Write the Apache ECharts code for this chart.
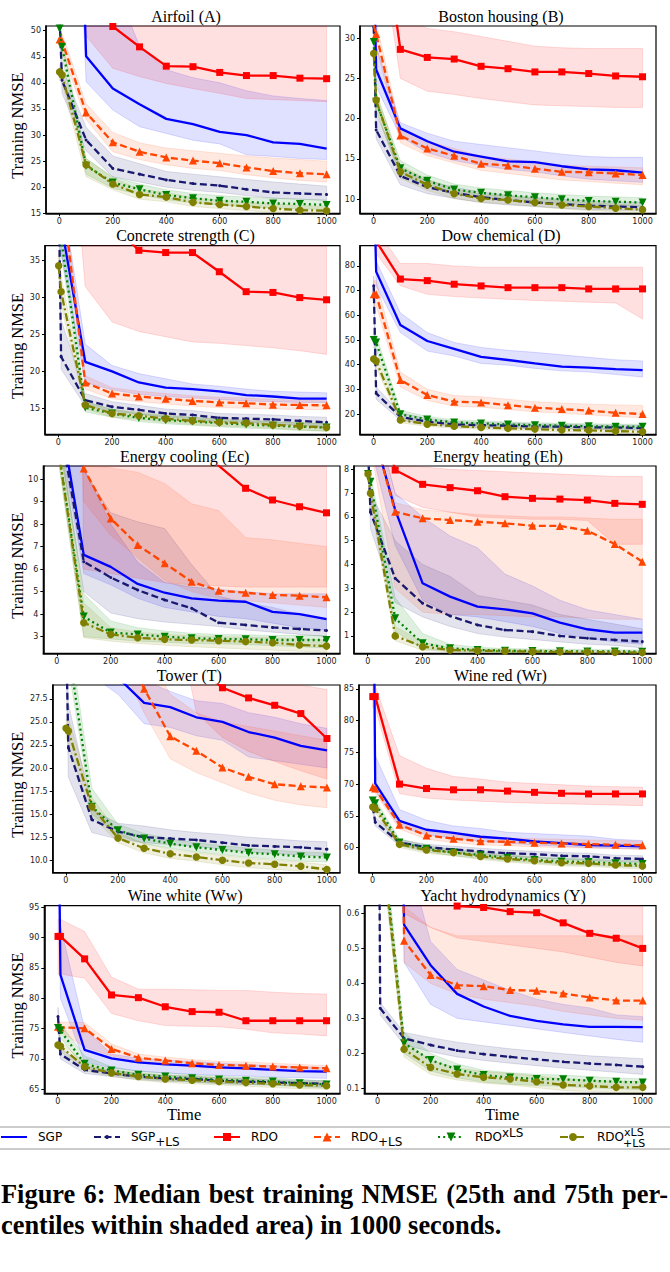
<!DOCTYPE html>
<html><head><meta charset="utf-8">
<script src="https://cdn.jsdelivr.net/npm/echarts@6/dist/echarts.min.js"></script>
<style>html,body{margin:0;padding:0;background:#fff;overflow:hidden}#c{width:670px;height:1272px}</style>
</head><body><div id="c"></div><script>
// ---------------- DATA ----------------
const TIME = [1, 10, 100, 200, 300, 400, 500, 600, 700, 800, 900, 1000];
const X_TICKS = [0, 200, 400, 600, 800, 1000];
const METHODS = ['SGP', 'SGP+LS', 'RDO', 'RDO+LS', 'RDOxLS', 'RDOxLS+LS'];

// Airfoil (A)
const A_YTICKS = [15, 20, 25, 30, 35, 40, 45, 50];
const A_SGP = [300, 200, 45.1, 38.9, 35.9, 33.1, 32.1, 30.6, 30.0, 28.6, 28.3, 27.4];
const A_SGP_LO = [250, 150, 40.2, 34.8, 31.6, 30.3, 29.0, 28.3, 26.2, 25.9, 25.5, 25.3];
const A_SGP_HI = [400, 300, 70, 60, 47, 42.5, 41, 40, 38.5, 37.5, 37, 36.6];
const A_SGPLS = [52, 40.5, 29.05, 23.6, 22.5, 21.4, 20.7, 20.3, 19.6, 19.0, 18.8, 18.6];
const A_SGPLS_LO = [50, 38.0, 27.0, 22.0, 21.0, 20.0, 19.4, 19.0, 18.4, 17.9, 17.7, 17.5];
const A_SGPLS_HI = [54, 43.0, 31.5, 26.0, 24.5, 23.0, 22.5, 22.0, 21.5, 21.0, 20.6, 20.2];
const A_RDO = [300, 200, 60, 50.8, 46.9, 43.2, 43.1, 42.0, 41.4, 41.4, 40.9, 40.8];
const A_RDO_LO = [250, 150, 49, 42.8, 41.2, 39.9, 38.9, 38.0, 37.0, 36.8, 36.6, 36.4];
const A_RDO_HI = [400, 300, 90, 80, 75, 70, 68, 66, 64, 62, 61, 60];
const A_RDOLS = [48.3, 48.0, 34.3, 28.6, 26.8, 25.7, 25.1, 24.6, 23.8, 23.1, 22.7, 22.5];
const A_RDOLS_LO = [47.0, 46.0, 33.0, 26.8, 25.3, 24.3, 23.6, 23.2, 22.4, 21.8, 21.3, 21.0];
const A_RDOLS_HI = [49.5, 49.5, 36.0, 30.5, 28.5, 27.5, 27.0, 26.5, 26.0, 25.6, 25.3, 25.0];
const A_RDOX = [50.4, 46.9, 24.1, 20.9, 19.6, 18.5, 17.9, 17.4, 17.2, 16.9, 16.8, 16.6];
const A_RDOX_LO = [49, 45, 22.5, 19.8, 18.6, 17.6, 17.0, 16.6, 16.3, 16.0, 15.9, 15.7];
const A_RDOX_HI = [51.5, 48.5, 25.5, 22.0, 20.6, 19.5, 18.8, 18.4, 18.1, 17.9, 17.7, 17.5];
const A_RDOXLS = [42.1, 41.5, 24.3, 20.6, 18.6, 18.1, 17.1, 16.7, 16.3, 15.9, 15.6, 15.5];
const A_RDOXLS_LO = [40.5, 40.0, 22.0, 19.5, 17.7, 17.2, 16.3, 15.9, 15.5, 15.2, 15.0, 14.9];
const A_RDOXLS_HI = [43.5, 43.0, 25.5, 21.8, 19.6, 19.0, 18.0, 17.5, 17.1, 16.8, 16.5, 16.3];

// Boston housing (B)
const B_YTICKS = [10, 15, 20, 25, 30];
const B_SGP = [40, 26.1, 18.8, 17.2, 15.9, 15.3, 14.7, 14.6, 14.1, 13.7, 13.6, 13.3];
const B_SGP_LO = [36, 24.0, 17.8, 15.8, 14.8, 14.2, 13.7, 13.4, 12.9, 12.5, 12.3, 12.1];
const B_SGP_HI = [44, 29.0, 19.5, 18.2, 17.2, 16.8, 16.4, 16.0, 15.6, 15.3, 15.2, 15.2];
const B_SGPLS = [31.4, 18.6, 12.9, 11.5, 10.8, 10.25, 9.9, 9.6, 9.4, 9.2, 9.1, 9.0];
const B_SGPLS_LO = [30, 17.5, 11.8, 10.7, 10.1, 9.6, 9.3, 9.1, 8.9, 8.7, 8.65, 8.6];
const B_SGPLS_HI = [33, 20.5, 14.0, 12.3, 11.5, 10.9, 10.5, 10.2, 10.0, 9.8, 9.7, 9.6];
const B_RDO = [60, 50, 28.6, 27.6, 27.4, 26.5, 26.2, 25.8, 25.8, 25.6, 25.3, 25.2];
const B_RDO_LO = [55, 45, 25.0, 23.4, 23.0, 22.5, 22.1, 21.7, 21.6, 21.5, 21.4, 21.4];
const B_RDO_HI = [65, 55, 33, 31.2, 30.8, 30.2, 29.6, 29.0, 28.8, 28.7, 28.7, 28.7];
const B_RDOLS = [31.6, 30.5, 17.9, 16.3, 15.4, 14.4, 14.2, 13.8, 13.4, 13.35, 13.2, 13.0];
const B_RDOLS_LO = [30.0, 29.0, 17.0, 15.4, 14.5, 13.6, 13.2, 12.8, 12.4, 12.2, 12.0, 11.8];
const B_RDOLS_HI = [33, 32, 18.8, 17.2, 16.3, 15.3, 15.0, 14.6, 14.2, 14.1, 14.0, 13.9];
const B_RDOX = [29.5, 22.1, 13.85, 12.3, 11.2, 10.8, 10.5, 10.25, 10.0, 9.8, 9.7, 9.6];
const B_RDOX_LO = [28.5, 21.0, 13.0, 11.6, 10.6, 10.2, 9.9, 9.7, 9.5, 9.3, 9.2, 9.1];
const B_RDOX_HI = [30.5, 23.0, 14.8, 13.0, 11.9, 11.4, 11.1, 10.8, 10.6, 10.4, 10.3, 10.2];
const B_RDOXLS = [28.1, 22.3, 13.4, 11.8, 10.7, 10.1, 9.9, 9.6, 9.3, 9.1, 8.9, 8.7];
const B_RDOXLS_LO = [27, 21.0, 12.6, 11.1, 10.1, 9.6, 9.4, 9.1, 8.8, 8.6, 8.45, 8.3];
const B_RDOXLS_HI = [29, 23.5, 14.2, 12.5, 11.3, 10.6, 10.4, 10.1, 9.8, 9.6, 9.4, 9.2];

// Concrete strength (C)
const C_YTICKS = [15, 20, 25, 30, 35];
const C_SGP = [60, 40, 21.3, 20.0, 18.5, 17.8, 17.6, 17.3, 16.8, 16.6, 16.3, 16.3];
const C_SGP_LO = [55, 36, 18.5, 17.5, 16.9, 16.6, 16.4, 16.2, 16.0, 15.9, 15.8, 15.8];
const C_SGP_HI = [65, 45, 23.7, 20.8, 19.7, 19.0, 18.3, 18.0, 17.6, 17.3, 17.2, 17.1];
const C_SGPLS = [45, 22.0, 16.1, 15.2, 14.8, 14.3, 14.1, 13.7, 13.6, 13.5, 13.3, 13.1];
const C_SGPLS_LO = [42, 20.3, 15.3, 14.6, 14.2, 13.8, 13.6, 13.2, 13.1, 12.9, 12.7, 12.5];
const C_SGPLS_HI = [48, 27.0, 17.0, 15.9, 15.4, 14.9, 14.7, 14.3, 14.2, 14.1, 13.9, 13.8];
const C_RDO = [80, 70, 45, 40, 36.4, 36.1, 36.1, 33.5, 30.8, 30.7, 30.0, 29.7];
const C_RDO_LO = [70, 70, 31.5, 26.7, 25.4, 24.7, 24.0, 23.8, 23.5, 23.2, 22.8, 22.3];
const C_RDO_HI = [90, 90, 60, 55, 50, 48, 46, 44, 42, 40, 40, 40];
const C_RDOLS = [47, 45, 18.5, 17.0, 16.6, 16.3, 16.0, 15.8, 15.7, 15.5, 15.45, 15.4];
const C_RDOLS_LO = [45, 43, 17.6, 16.3, 15.9, 15.6, 15.3, 15.1, 15.0, 14.9, 14.85, 14.8];
const C_RDOLS_HI = [49, 47, 19.4, 17.8, 17.3, 17.0, 16.7, 16.5, 16.4, 16.2, 16.1, 16.0];
const C_RDOX = [40, 38, 15.1, 14.3, 13.7, 13.4, 13.2, 13.0, 12.8, 12.65, 12.5, 12.4];
const C_RDOX_LO = [38, 36, 14.5, 13.8, 13.2, 12.9, 12.7, 12.5, 12.3, 12.2, 12.0, 11.9];
const C_RDOX_HI = [42, 40, 15.8, 14.9, 14.3, 14.0, 13.8, 13.5, 13.3, 13.2, 13.0, 12.9];
const C_RDOXLS = [34.3, 30.8, 15.45, 14.3, 14.0, 13.6, 13.3, 13.1, 13.0, 12.75, 12.6, 12.4];
const C_RDOXLS_LO = [33, 29, 14.9, 13.8, 13.5, 13.1, 12.8, 12.6, 12.5, 12.3, 12.1, 11.9];
const C_RDOXLS_HI = [36, 33, 16.0, 14.8, 14.5, 14.1, 13.8, 13.6, 13.5, 13.2, 13.1, 12.9];

// Dow chemical (D)
const D_YTICKS = [20, 30, 40, 50, 60, 70, 80];
const D_SGP = [120, 77.7, 56.1, 49.6, 46.4, 43.2, 41.9, 40.5, 39.2, 38.8, 38.2, 37.8];
const D_SGP_LO = [110, 72, 53.0, 45.5, 43.5, 40.5, 39.8, 38.5, 37.5, 37.0, 36.0, 35.0];
const D_SGP_HI = [130, 82, 61.0, 53.0, 49.0, 47.0, 45.8, 45.0, 44.0, 43.0, 42.0, 41.5];
const D_SGPLS = [72, 28.4, 18.9, 16.9, 15.8, 15.5, 15.3, 14.9, 14.9, 14.6, 14.6, 14.3];
const D_SGPLS_LO = [68, 26, 17.5, 15.8, 14.8, 14.5, 14.3, 14.0, 14.0, 13.7, 13.7, 13.4];
const D_SGPLS_HI = [76, 31, 20.5, 18.2, 17.0, 16.6, 16.4, 16.0, 15.9, 15.6, 15.6, 15.3];
const D_RDO = [100, 90, 74.7, 74.05, 72.6, 71.9, 71.2, 71.2, 71.2, 70.7, 70.7, 70.7];
const D_RDO_LO = [95, 85, 72.0, 68.5, 67.6, 67.0, 66.5, 66.0, 65.7, 65.3, 65.0, 58.5];
const D_RDO_HI = [110, 95, 81.0, 81.0, 80.0, 79.5, 79.5, 79.5, 79.5, 79.5, 79.5, 79.5];
const D_RDOLS = [68.5, 68.5, 33.8, 27.7, 25.0, 24.7, 23.6, 22.6, 22.0, 21.4, 20.5, 20.0];
const D_RDOLS_LO = [64, 64, 31, 25.5, 23.2, 22.8, 21.8, 20.9, 20.3, 19.7, 19.0, 18.5];
const D_RDOLS_HI = [74, 74, 37, 30.0, 27.5, 27.0, 26.0, 25.0, 24.5, 24.0, 23.7, 23.5];
const D_RDOX = [50.0, 49.0, 19.9, 17.8, 16.6, 16.2, 15.8, 15.5, 15.3, 15.1, 14.9, 14.9];
const D_RDOX_LO = [47, 46, 18.5, 16.7, 15.6, 15.2, 14.9, 14.6, 14.4, 14.2, 14.0, 14.0];
const D_RDOX_HI = [53, 52, 21.5, 19.0, 17.7, 17.3, 16.8, 16.5, 16.3, 16.1, 15.9, 15.9];
const D_RDOXLS = [42.3, 41.5, 17.6, 15.9, 15.1, 14.6, 14.2, 13.9, 13.5, 13.4, 13.1, 12.8];
const D_RDOXLS_LO = [40, 39, 16.5, 15.0, 14.3, 13.8, 13.4, 13.1, 12.8, 12.6, 12.4, 12.1];
const D_RDOXLS_HI = [45, 44, 18.8, 16.9, 16.0, 15.5, 15.1, 14.8, 14.4, 14.2, 14.0, 13.7];

// Energy cooling (Ec)
const EC_YTICKS = [3, 4, 5, 6, 7, 8, 9, 10];
const EC_SGP = [15, 13, 6.63, 6.1, 5.34, 4.95, 4.7, 4.6, 4.55, 4.1, 4.0, 3.78];
const EC_SGP_LO = [14, 12, 5.8, 5.3, 4.7, 4.3, 4.1, 3.9, 3.8, 3.6, 3.4, 3.3];
const EC_SGP_HI = [16, 14, 10.5, 8.0, 6.3, 5.4, 5.2, 5.1, 5.0, 4.9, 4.9, 4.9];
const EC_SGPLS = [15, 12.5, 6.33, 5.63, 5.07, 4.63, 4.26, 3.62, 3.52, 3.41, 3.34, 3.27];
const EC_SGPLS_LO = [14, 11.5, 5.0, 4.05, 3.8, 3.65, 3.55, 3.45, 3.3, 3.2, 3.1, 3.0];
const EC_SGPLS_HI = [16, 13.5, 10.4, 8.5, 8.1, 7.8, 6.2, 4.8, 4.5, 4.3, 4.0, 3.8];
const EC_RDO = [20, 20, 15, 15, 15, 13, 12, 10.6, 9.59, 9.07, 8.77, 8.5];
const EC_RDO_LO = [100, 100, 6.0, 5.8, 5.6, 5.4, 5.3, 5.25, 5.2, 5.2, 5.2, 5.2];
const EC_RDO_HI = [120, 120, 20, 20, 20, 18, 16, 15, 14, 13, 12.5, 12];
const EC_RDOLS = [15, 13, 10.47, 8.25, 7.07, 6.26, 5.44, 5.04, 4.95, 4.85, 4.82, 4.75];
const EC_RDOLS_LO = [40, 40, 9.0, 7.5, 6.5, 5.5, 5.0, 4.7, 4.6, 4.5, 4.4, 4.3];
const EC_RDOLS_HI = [50, 50, 10.6, 10.5, 10.3, 9.8, 8.9, 8.6, 7.4, 7.3, 7.15, 7.0];
const EC_RDOX = [20, 11, 3.89, 3.18, 3.1, 3.0, 2.93, 2.9, 2.88, 2.85, 2.85, 2.85];
const EC_RDOX_LO = [18, 10.5, 3.0, 2.9, 2.8, 2.75, 2.7, 2.68, 2.65, 2.6, 2.55, 2.5];
const EC_RDOX_HI = [22, 12, 4.9, 3.7, 3.4, 3.25, 3.15, 3.1, 3.08, 3.05, 3.05, 3.05];
const EC_RDOXLS = [20, 11, 3.62, 3.1, 2.95, 2.88, 2.85, 2.82, 2.78, 2.73, 2.63, 2.58];
const EC_RDOXLS_LO = [18, 10.5, 2.95, 2.8, 2.7, 2.62, 2.55, 2.5, 2.45, 2.4, 2.35, 2.3];
const EC_RDOXLS_HI = [22, 12, 4.5, 3.4, 3.2, 3.1, 3.05, 3.0, 2.98, 2.95, 2.9, 2.85];

// Energy heating (Eh)
const EH_YTICKS = [1, 2, 3, 4, 5, 6, 7, 8];
const EH_SGP = [15, 10, 6.3, 3.21, 2.65, 2.23, 2.12, 1.95, 1.56, 1.28, 1.14, 1.14];
const EH_SGP_LO = [14, 9, 4.8, 2.5, 1.9, 1.8, 1.6, 1.4, 1.1, 0.9, 0.75, 0.65];
const EH_SGP_HI = [16, 11, 7.0, 6.0, 5.2, 4.7, 3.6, 3.1, 2.5, 2.1, 1.9, 1.7];
const EH_SGPLS = [9, 6.2, 3.42, 2.37, 1.84, 1.46, 1.25, 1.18, 1.0, 0.9, 0.83, 0.76];
const EH_SGPLS_LO = [8.5, 5.5, 2.4, 1.8, 1.4, 1.1, 0.95, 0.85, 0.75, 0.65, 0.6, 0.5];
const EH_SGPLS_HI = [9.5, 7.0, 5.0, 4.0, 3.5, 2.7, 2.5, 2.3, 1.9, 1.7, 1.5, 1.3];
const EH_RDO = [15, 12, 7.97, 7.37, 7.23, 7.1, 6.85, 6.78, 6.75, 6.71, 6.57, 6.53];
const EH_RDO_LO = [14, 11, 6.9, 6.4, 6.2, 6.0, 5.95, 5.9, 5.9, 5.85, 4.85, 4.85];
const EH_RDO_HI = [16, 13, 8.2, 8.1, 8.0, 7.95, 7.9, 7.85, 7.8, 7.75, 7.7, 7.7];
const EH_RDOLS = [15, 10, 6.22, 5.94, 5.87, 5.8, 5.73, 5.63, 5.62, 5.42, 4.86, 4.12];
const EH_RDOLS_LO = [14, 9, 3.0, 2.0, 1.9, 1.9, 1.85, 1.8, 1.8, 1.75, 1.7, 1.7];
const EH_RDOLS_HI = [16, 11, 6.6, 6.3, 6.2, 6.1, 6.05, 6.0, 6.0, 5.95, 5.9, 5.9];
const EH_RDOX = [7.8, 7.48, 1.74, 0.69, 0.48, 0.41, 0.38, 0.37, 0.36, 0.35, 0.35, 0.34];
const EH_RDOX_LO = [7.5, 7.1, 1.2, 0.45, 0.36, 0.33, 0.31, 0.3, 0.3, 0.29, 0.29, 0.28];
const EH_RDOX_HI = [8.1, 7.8, 2.6, 1.1, 0.65, 0.52, 0.47, 0.45, 0.44, 0.43, 0.42, 0.41];
const EH_RDOXLS = [7.8, 7.0, 1.0, 0.55, 0.41, 0.38, 0.36, 0.34, 0.33, 0.32, 0.31, 0.30];
const EH_RDOXLS_LO = [7.5, 6.6, 0.8, 0.4, 0.33, 0.3, 0.29, 0.28, 0.27, 0.27, 0.26, 0.26];
const EH_RDOXLS_HI = [8.1, 7.4, 1.4, 0.75, 0.5, 0.46, 0.43, 0.41, 0.4, 0.39, 0.38, 0.37];

// Tower (T)
const TW_YTICKS = [10, 12.5, 15, 17.5, 20, 22.5, 25, 27.5];
const TW_SGP = [40, 38, 33, 29.8, 27.07, 26.6, 25.5, 25.0, 23.9, 23.3, 22.4, 21.9];
const TW_SGP_LO = [36, 34, 30, 28.0, 24.8, 24.4, 23.5, 23.0, 21.2, 20.8, 20.4, 20.0];
const TW_SGP_HI = [44, 42, 36, 33, 29.5, 28.3, 27.3, 27.0, 26.0, 25.5, 24.8, 24.3];
const TW_SGPLS = [35, 22.2, 14.4, 13.1, 12.5, 12.35, 12.2, 11.9, 11.6, 11.5, 11.4, 11.2];
const TW_SGPLS_LO = [32, 19, 13.0, 12.3, 11.9, 11.7, 11.5, 11.2, 10.9, 10.7, 10.6, 10.4];
const TW_SGPLS_HI = [38, 27, 15.5, 14.0, 13.7, 13.3, 13.0, 12.8, 12.5, 12.3, 12.1, 12.0];
const TW_RDO = [50, 50, 40, 38, 36, 33, 31, 28.7, 27.6, 26.8, 25.9, 23.2];
const TW_RDO_LO = [45, 45, 40, 40, 40, 40, 26, 23.3, 21.8, 20.7, 19.7, 18.8];
const TW_RDO_HI = [55, 55, 45, 45, 45, 40, 35, 33, 31, 30, 29, 28.5];
const TW_RDOLS = [50, 50, 40, 35, 28.6, 23.45, 21.86, 20.05, 19.04, 18.24, 18.03, 17.88];
const TW_RDOLS_LO = [45, 45, 38, 32, 26, 21.0, 19.5, 18.4, 17.3, 16.5, 16.0, 15.7];
const TW_RDOLS_HI = [55, 55, 45, 40, 33, 28, 26, 25, 24.5, 24, 23.5, 23.0];
const TW_RDOX = [36, 33, 15.8, 13.25, 12.35, 11.8, 11.4, 11.1, 10.8, 10.65, 10.4, 10.3];
const TW_RDOX_LO = [34, 31, 15.0, 12.7, 11.8, 11.3, 10.9, 10.6, 10.3, 10.1, 9.9, 9.8];
const TW_RDOX_HI = [38, 35, 17.8, 13.9, 12.9, 12.3, 11.9, 11.6, 11.3, 11.1, 10.9, 10.8];
const TW_RDOXLS = [24.3, 24.0, 15.8, 12.4, 11.3, 10.7, 10.35, 10.0, 9.7, 9.57, 9.35, 9.0];
const TW_RDOXLS_LO = [23.3, 22.5, 14.8, 11.9, 10.8, 10.2, 9.9, 9.5, 9.2, 9.0, 8.8, 8.5];
const TW_RDOXLS_HI = [25.3, 25.5, 16.8, 13.0, 11.8, 11.2, 10.8, 10.5, 10.2, 10.0, 9.8, 9.5];

// Wine red (Wr)
const WR_YTICKS = [60, 65, 70, 75, 80, 85];
const WR_SGP = [120, 70.1, 64.2, 62.8, 62.3, 61.7, 61.4, 60.95, 60.7, 60.4, 60.3, 60.2];
const WR_SGP_LO = [110, 69.0, 63.3, 62.0, 61.5, 61.0, 60.7, 60.4, 60.2, 60.0, 59.9, 59.8];
const WR_SGP_HI = [130, 74.5, 66.0, 64.3, 63.4, 63.0, 62.4, 62.2, 62.0, 61.8, 61.3, 61.1];
const WR_SGPLS = [66.5, 64.0, 60.8, 60.05, 59.7, 59.4, 59.1, 58.95, 58.7, 58.6, 58.3, 58.2];
const WR_SGPLS_LO = [65.8, 63.4, 60.3, 59.6, 59.2, 58.9, 58.6, 58.4, 58.2, 58.0, 57.8, 57.7];
const WR_SGPLS_HI = [67.3, 64.8, 61.3, 60.5, 60.2, 59.9, 59.6, 59.4, 59.2, 59.1, 58.8, 58.7];
const WR_RDO = [83.8, 83.8, 70.0, 69.3, 69.1, 69.1, 68.9, 68.7, 68.55, 68.45, 68.45, 68.45];
const WR_RDO_LO = [82, 82, 68.5, 67.8, 67.5, 67.3, 67.1, 67.0, 66.9, 66.8, 66.7, 66.6];
const WR_RDO_HI = [85.5, 85.5, 74.5, 72.5, 71.2, 70.8, 70.3, 70.1, 69.9, 69.7, 69.6, 69.5];
const WR_RDOLS = [69.5, 69.3, 63.6, 61.9, 61.4, 61.0, 60.9, 60.75, 60.65, 60.55, 60.45, 60.35];
const WR_RDOLS_LO = [68.8, 68.6, 62.9, 61.3, 60.8, 60.4, 60.3, 60.1, 60.0, 59.9, 59.8, 59.7];
const WR_RDOLS_HI = [70.2, 70.0, 64.3, 62.5, 62.0, 61.6, 61.5, 61.4, 61.3, 61.2, 61.1, 61.0];
const WR_RDOX = [67.4, 67.0, 60.8, 59.8, 59.2, 58.8, 58.4, 58.05, 57.8, 57.7, 57.5, 57.4];
const WR_RDOX_LO = [66.8, 66.4, 60.3, 59.3, 58.7, 58.3, 57.9, 57.6, 57.3, 57.2, 57.0, 56.9];
const WR_RDOX_HI = [68.0, 67.6, 61.3, 60.3, 59.7, 59.3, 58.9, 58.5, 58.3, 58.2, 58.0, 57.9];
const WR_RDOXLS = [66.4, 66.1, 60.5, 59.6, 59.2, 58.6, 58.2, 57.9, 57.6, 57.5, 57.25, 57.1];
const WR_RDOXLS_LO = [65.8, 65.5, 60.0, 59.1, 58.7, 58.1, 57.7, 57.4, 57.1, 57.0, 56.8, 56.6];
const WR_RDOXLS_HI = [67.0, 66.7, 61.0, 60.1, 59.7, 59.1, 58.7, 58.4, 58.1, 58.0, 57.7, 57.6];

// Wine white (Ww)
const WW_YTICKS = [65, 70, 75, 80, 85, 90, 95];
const WW_SGP = [120, 83.85, 71.5, 70.1, 69.45, 69.1, 68.9, 68.6, 68.45, 68.2, 68.0, 67.9];
const WW_SGP_LO = [110, 80.0, 69.5, 68.5, 68.0, 67.7, 67.5, 67.3, 67.2, 67.0, 66.9, 66.8];
const WW_SGP_HI = [130, 92.0, 75.0, 70.8, 70.1, 69.8, 69.6, 69.3, 69.1, 68.9, 68.7, 68.6];
const WW_SGPLS = [77.0, 70.8, 68.2, 67.6, 67.1, 66.8, 66.7, 66.4, 66.25, 66.15, 66.0, 65.9];
const WW_SGPLS_LO = [75.5, 70.0, 67.6, 67.1, 66.6, 66.3, 66.2, 65.9, 65.8, 65.7, 65.5, 65.4];
const WW_SGPLS_HI = [78.5, 71.8, 68.8, 68.1, 67.6, 67.3, 67.2, 66.9, 66.8, 66.6, 66.5, 66.4];
const WW_RDO = [90.2, 90.2, 86.5, 80.55, 80.1, 78.6, 77.8, 77.7, 76.3, 76.3, 76.3, 76.3];
const WW_RDO_LO = [84, 84, 83.3, 77.5, 76.3, 75.5, 75.4, 75.3, 74.9, 74.3, 74.1, 73.8];
const WW_RDO_HI = [93, 93, 91, 83.5, 81.5, 81.5, 81.4, 81.3, 81.3, 81.0, 80.8, 80.7];
const WW_RDOLS = [75.3, 75.2, 75.05, 71.65, 70.2, 69.75, 69.3, 69.0, 68.9, 68.75, 68.6, 68.45];
const WW_RDOLS_LO = [74.5, 74.4, 72.0, 70.5, 69.5, 69.1, 68.7, 68.4, 68.3, 68.1, 67.9, 67.8];
const WW_RDOLS_HI = [76.2, 76.1, 76.0, 72.5, 70.8, 70.3, 69.9, 69.6, 69.5, 69.3, 69.1, 68.9];
const WW_RDOX = [75.1, 74.7, 69.2, 68.1, 67.4, 67.1, 66.8, 66.6, 66.4, 66.3, 66.0, 65.8];
const WW_RDOX_LO = [74.3, 73.5, 68.5, 67.5, 66.8, 66.5, 66.2, 66.0, 65.8, 65.7, 65.4, 65.2];
const WW_RDOX_HI = [75.9, 75.8, 70.5, 68.7, 68.0, 67.7, 67.4, 67.2, 67.0, 66.9, 66.6, 66.4];
const WW_RDOXLS = [72.3, 72.1, 68.7, 67.7, 67.1, 66.7, 66.5, 66.3, 66.1, 65.9, 65.7, 65.6];
const WW_RDOXLS_LO = [71.5, 71.3, 68.1, 67.1, 66.5, 66.1, 65.9, 65.7, 65.5, 65.3, 65.1, 65.0];
const WW_RDOXLS_HI = [73.1, 72.9, 69.3, 68.3, 67.7, 67.3, 67.1, 66.9, 66.7, 66.5, 66.3, 66.2];

// Yacht hydrodynamics (Y)
const Y_YTICKS = [0.1, 0.2, 0.3, 0.4, 0.5, 0.6];
const Y_SGP = [null, 5.0, 0.567, 0.452, 0.37, 0.334, 0.307, 0.293, 0.283, 0.276, 0.276, 0.275];
const Y_SGP_LO = [null, 5.0, 0.46, 0.34, 0.30, 0.29, 0.28, 0.27, 0.26, 0.25, 0.24, 0.232];
const Y_SGP_HI = [null, 5.0, 0.8, 0.52, 0.44, 0.41, 0.38, 0.355, 0.34, 0.33, 0.31, 0.305];
const Y_SGPLS = [1.5, 0.329, 0.243, 0.224, 0.208, 0.198, 0.19, 0.183, 0.176, 0.171, 0.167, 0.162];
const Y_SGPLS_LO = [1.4, 0.31, 0.225, 0.205, 0.19, 0.18, 0.172, 0.165, 0.158, 0.152, 0.146, 0.14];
const Y_SGPLS_HI = [1.6, 0.345, 0.26, 0.245, 0.232, 0.222, 0.213, 0.206, 0.199, 0.193, 0.189, 0.185];
const Y_RDO = [null, 5.0, 0.8, 0.7, 0.621, 0.617, 0.605, 0.602, 0.573, 0.543, 0.529, 0.5];
const Y_RDO_LO = [null, 5.0, 0.6, 0.56, 0.53, 0.52, 0.51, 0.5, 0.49, 0.475, 0.46, 0.45];
const Y_RDO_HI = [null, 5.0, 1.0, 0.9, 0.8, 0.75, 0.72, 0.7, 0.68, 0.66, 0.64, 0.62];
const Y_RDOLS = [null, 5.0, 0.522, 0.424, 0.395, 0.392, 0.381, 0.379, 0.371, 0.36, 0.351, 0.351];
const Y_RDOLS_LO = [null, 5.0, 0.46, 0.40, 0.37, 0.355, 0.345, 0.335, 0.32, 0.31, 0.30, 0.295];
const Y_RDOLS_HI = [null, 5.0, 0.62, 0.56, 0.536, 0.536, 0.536, 0.536, 0.536, 0.536, 0.536, 0.536];
const Y_RDOX = [1.0, 0.87, 0.229, 0.181, 0.154, 0.138, 0.131, 0.127, 0.126, 0.122, 0.119, 0.117];
const Y_RDOX_LO = [0.95, 0.82, 0.2, 0.15, 0.13, 0.118, 0.112, 0.108, 0.106, 0.102, 0.099, 0.096];
const Y_RDOX_HI = [1.05, 0.92, 0.26, 0.2, 0.17, 0.152, 0.145, 0.14, 0.138, 0.134, 0.13, 0.127];
const Y_RDOXLS = [1.0, 0.85, 0.212, 0.16, 0.141, 0.132, 0.127, 0.119, 0.11, 0.107, 0.103, 0.103];
const Y_RDOXLS_LO = [0.95, 0.8, 0.19, 0.14, 0.124, 0.115, 0.11, 0.102, 0.094, 0.091, 0.088, 0.087];
const Y_RDOXLS_HI = [1.05, 0.9, 0.235, 0.18, 0.158, 0.148, 0.143, 0.136, 0.127, 0.124, 0.12, 0.12];

const CAPTION_1 = ['Figure', '6:', 'Median', 'best', 'training', 'NMSE', '(25th', 'and', '75th', 'per-'];
const CAPTION_2 = 'centiles within shaded area) in 1000 seconds.';

// ---------------- PANEL SETUP ----------------
const PANELS = [
  {title: 'Airfoil (A)', ymin: 15, ymax: 50.9, yticks: A_YTICKS, dec: 0,
   s: [[A_SGP, A_SGP_LO, A_SGP_HI], [A_SGPLS, A_SGPLS_LO, A_SGPLS_HI], [A_RDO, A_RDO_LO, A_RDO_HI], [A_RDOLS, A_RDOLS_LO, A_RDOLS_HI], [A_RDOX, A_RDOX_LO, A_RDOX_HI], [A_RDOXLS, A_RDOXLS_LO, A_RDOXLS_HI]]},
  {title: 'Boston housing (B)', ymin: 8.26, ymax: 31.5, yticks: B_YTICKS, dec: 0,
   s: [[B_SGP, B_SGP_LO, B_SGP_HI], [B_SGPLS, B_SGPLS_LO, B_SGPLS_HI], [B_RDO, B_RDO_LO, B_RDO_HI], [B_RDOLS, B_RDOLS_LO, B_RDOLS_HI], [B_RDOX, B_RDOX_LO, B_RDOX_HI], [B_RDOXLS, B_RDOXLS_LO, B_RDOXLS_HI]]},
  {title: 'Concrete strength (C)', ymin: 11.48, ymax: 37.03, yticks: C_YTICKS, dec: 0,
   s: [[C_SGP, C_SGP_LO, C_SGP_HI], [C_SGPLS, C_SGPLS_LO, C_SGPLS_HI], [C_RDO, C_RDO_LO, C_RDO_HI], [C_RDOLS, C_RDOLS_LO, C_RDOLS_HI], [C_RDOX, C_RDOX_LO, C_RDOX_HI], [C_RDOXLS, C_RDOXLS_LO, C_RDOXLS_HI]]},
  {title: 'Dow chemical (D)', ymin: 11.8, ymax: 88.2, yticks: D_YTICKS, dec: 0,
   s: [[D_SGP, D_SGP_LO, D_SGP_HI], [D_SGPLS, D_SGPLS_LO, D_SGPLS_HI], [D_RDO, D_RDO_LO, D_RDO_HI], [D_RDOLS, D_RDOLS_LO, D_RDOLS_HI], [D_RDOX, D_RDOX_LO, D_RDOX_HI], [D_RDOXLS, D_RDOXLS_LO, D_RDOXLS_HI]]},
  {title: 'Energy cooling (Ec)', ymin: 2.26, ymax: 10.58, yticks: EC_YTICKS, dec: 0,
   s: [[EC_SGP, EC_SGP_LO, EC_SGP_HI], [EC_SGPLS, EC_SGPLS_LO, EC_SGPLS_HI], [EC_RDO, EC_RDO_LO, EC_RDO_HI], [EC_RDOLS, EC_RDOLS_LO, EC_RDOLS_HI], [EC_RDOX, EC_RDOX_LO, EC_RDOX_HI], [EC_RDOXLS, EC_RDOXLS_LO, EC_RDOXLS_HI]]},
  {title: 'Energy heating (Eh)', ymin: 0.27, ymax: 8.14, yticks: EH_YTICKS, dec: 0,
   s: [[EH_SGP, EH_SGP_LO, EH_SGP_HI], [EH_SGPLS, EH_SGPLS_LO, EH_SGPLS_HI], [EH_RDO, EH_RDO_LO, EH_RDO_HI], [EH_RDOLS, EH_RDOLS_LO, EH_RDOLS_HI], [EH_RDOX, EH_RDOX_LO, EH_RDOX_HI], [EH_RDOXLS, EH_RDOXLS_LO, EH_RDOXLS_HI]]},
  {title: 'Tower (T)', ymin: 8.67, ymax: 29.0, yticks: TW_YTICKS, dec: 1,
   s: [[TW_SGP, TW_SGP_LO, TW_SGP_HI], [TW_SGPLS, TW_SGPLS_LO, TW_SGPLS_HI], [TW_RDO, TW_RDO_LO, TW_RDO_HI], [TW_RDOLS, TW_RDOLS_LO, TW_RDOLS_HI], [TW_RDOX, TW_RDOX_LO, TW_RDOX_HI], [TW_RDOXLS, TW_RDOXLS_LO, TW_RDOXLS_HI]]},
  {title: 'Wine red (Wr)', ymin: 56.06, ymax: 85.63, yticks: WR_YTICKS, dec: 0,
   s: [[WR_SGP, WR_SGP_LO, WR_SGP_HI], [WR_SGPLS, WR_SGPLS_LO, WR_SGPLS_HI], [WR_RDO, WR_RDO_LO, WR_RDO_HI], [WR_RDOLS, WR_RDOLS_LO, WR_RDOLS_HI], [WR_RDOX, WR_RDOX_LO, WR_RDOX_HI], [WR_RDOXLS, WR_RDOXLS_LO, WR_RDOXLS_HI]]},
  {title: 'Wine white (Ww)', ymin: 64.34, ymax: 95.26, yticks: WW_YTICKS, dec: 0,
   s: [[WW_SGP, WW_SGP_LO, WW_SGP_HI], [WW_SGPLS, WW_SGPLS_LO, WW_SGPLS_HI], [WW_RDO, WW_RDO_LO, WW_RDO_HI], [WW_RDOLS, WW_RDOLS_LO, WW_RDOLS_HI], [WW_RDOX, WW_RDOX_LO, WW_RDOX_HI], [WW_RDOXLS, WW_RDOXLS_LO, WW_RDOXLS_HI]]},
  {title: 'Yacht hydrodynamics (Y)', ymin: 0.086, ymax: 0.622, yticks: Y_YTICKS, dec: 1,
   s: [[Y_SGP, Y_SGP_LO, Y_SGP_HI], [Y_SGPLS, Y_SGPLS_LO, Y_SGPLS_HI], [Y_RDO, Y_RDO_LO, Y_RDO_HI], [Y_RDOLS, Y_RDOLS_LO, Y_RDOLS_HI], [Y_RDOX, Y_RDOX_LO, Y_RDOX_HI], [Y_RDOXLS, Y_RDOXLS_LO, Y_RDOXLS_HI]]}
];

// layout: [left, top, right, bottom] in px
const LAYOUT = [
  [46, 26, 340, 213.3], [360, 26, 656, 213.3],
  [45, 245.7, 340, 434.3], [360, 245.7, 656, 434.3],
  [43.3, 466, 340, 653.3], [354, 466, 656, 653.3],
  [52.7, 685, 340, 872.5], [359, 685, 656, 872.5],
  [44.3, 905.7, 340, 1093.3], [364.3, 905.7, 656, 1093.3]
];

const STYLE = [
  {color: '#0000ff', type: 'solid', symbol: 'none', size: 0, rotate: 0, legendH: 10},
  {color: '#191970', type: [7, 3.5], symbol: 'circle', size: 3, rotate: 0, legendH: 5},
  {color: '#ff0000', type: 'solid', symbol: 'rect', size: 7, rotate: 0, legendH: 10},
  {color: '#ff4500', type: [7, 3.5], symbol: 'triangle', size: 8, rotate: 0, legendH: 11},
  {color: '#008000', type: [2, 3.2], symbol: 'triangle', size: 8, rotate: 180, legendH: 11},
  {color: '#808000', type: [8, 3, 2, 3], symbol: 'circle', size: 7.5, rotate: 0, legendH: 10}
];

function rgba(hex, a) {
  const n = parseInt(hex.slice(1), 16);
  return 'rgba(' + ((n >> 16) & 255) + ',' + ((n >> 8) & 255) + ',' + (n & 255) + ',' + a + ')';
}

function clipPoly(pts, x0, y0, x1, y1) {
  const edges = [
    [p => p[0] >= x0, (a, b) => { const t = (x0 - a[0]) / (b[0] - a[0]); return [x0, a[1] + t * (b[1] - a[1])]; }],
    [p => p[0] <= x1, (a, b) => { const t = (x1 - a[0]) / (b[0] - a[0]); return [x1, a[1] + t * (b[1] - a[1])]; }],
    [p => p[1] >= y0, (a, b) => { const t = (y0 - a[1]) / (b[1] - a[1]); return [a[0] + t * (b[0] - a[0]), y0]; }],
    [p => p[1] <= y1, (a, b) => { const t = (y1 - a[1]) / (b[1] - a[1]); return [a[0] + t * (b[0] - a[0]), y1]; }]
  ];
  let out = pts;
  for (const [inside, inter] of edges) {
    const inp = out; out = [];
    if (!inp.length) break;
    let prev = inp[inp.length - 1];
    for (const cur of inp) {
      if (inside(cur)) { if (!inside(prev)) out.push(inter(prev, cur)); out.push(cur); }
      else if (inside(prev)) out.push(inter(prev, cur));
      prev = cur;
    }
  }
  return out;
}

const grids = [], xAxes = [], yAxes = [], series = [], graphics = [];
const FONT_TICK = 'DejaVu Sans';
const SERIF = 'Liberation Serif';

PANELS.forEach((p, i) => {
  const [l, t, r, b] = LAYOUT[i];
  grids.push({left: l, top: t, width: r - l, height: b - t, show: true, borderColor: '#000', borderWidth: 1.2, backgroundColor: 'transparent'});
  xAxes.push({
    type: 'value', gridIndex: i, min: -50, max: 1050,
    axisLine: {show: true, onZero: false, lineStyle: {color: '#000', width: 1.6}},
    axisTick: {show: true, customValues: X_TICKS, length: 3, lineStyle: {color: '#000', width: 1}},
    axisLabel: {customValues: X_TICKS, fontFamily: FONT_TICK, fontSize: 8, color: '#222', margin: 4,
      formatter: (v) => String(Math.round(v))},
    splitLine: {show: false}
  });
  yAxes.push({
    type: 'value', gridIndex: i, min: p.ymin, max: p.ymax,
    axisLine: {show: true, onZero: false, lineStyle: {color: '#000', width: 1.6}},
    axisTick: {show: true, customValues: p.yticks, length: 3, lineStyle: {color: '#000', width: 1}},
    axisLabel: {customValues: p.yticks, fontFamily: FONT_TICK, fontSize: 8, color: '#222', margin: 5,
      formatter: (v) => Number(v).toFixed(p.dec)},
    splitLine: {show: false}
  });
  // bands (25th-75th percentile)
  p.s.forEach((trip, m) => {
    const lo = trip[1], hi = trip[2];
    const st = STYLE[m];
    series.push({
      type: 'custom', xAxisIndex: i, yAxisIndex: i, silent: true, z: 1,
      data: TIME.map((x) => [x]),
      encode: {x: 0},
      renderItem: (params, api) => {
        if (params.dataIndex !== 0) return null;
        const cs = params.coordSys;
        const up = [], dn = [];
        TIME.forEach((x, k) => {
          if (lo[k] == null || hi[k] == null) return;
          up.push(api.coord([x, hi[k]]));
          dn.push(api.coord([x, lo[k]]));
        });
        const poly = clipPoly(up.concat(dn.reverse()), cs.x, cs.y, cs.x + cs.width, cs.y + cs.height);
        if (poly.length < 3) return null;
        return {type: 'polygon', shape: {points: poly},
          style: {fill: rgba(st.color, 0.12), stroke: rgba(st.color, 0.13), lineWidth: 1}};
      }
    });
  });
  // median lines
  p.s.forEach((trip, m) => {
    const st = STYLE[m];
    series.push({
      type: 'line', name: METHODS[m], xAxisIndex: i, yAxisIndex: i, z: 3 + m,
      data: TIME.map((x, k) => [x, trip[0][k] == null ? '-' : trip[0][k]]),
      symbol: st.symbol, symbolSize: st.size, symbolRotate: st.rotate, showSymbol: st.symbol !== 'none',
      lineStyle: {color: st.color, width: 2.3, type: st.type},
      itemStyle: {color: st.color, borderWidth: 0},
      clip: true, silent: true, connectNulls: false
    });
  });
  // title
  const cx = (l + r) / 2 - 7;
  graphics.push({type: 'text', x: cx, y: t - 10, silent: true,
    style: {text: p.title, fill: '#000', font: '16px "' + SERIF + '"', align: 'center', verticalAlign: 'middle'}});
  if (i % 2 === 0) {
    graphics.push({type: 'text', x: 17.3, y: (t + b) / 2 + 6, rotation: Math.PI / 2, silent: true,
      style: {text: 'Training NMSE', fill: '#000', font: '16.5px "' + SERIF + '"', align: 'center', verticalAlign: 'middle'}});
  }
  if (i >= 8) {
    graphics.push({type: 'text', x: cx - 1, y: 1114, silent: true,
      style: {text: 'Time', fill: '#000', font: '16.5px "' + SERIF + '"', align: 'center', verticalAlign: 'middle'}});
  }
});

// legend
const LEGEND_LEFT = [0, 93, 213, 313, 437, 559];
const LEGEND_FMT = ['{b|SGP}', '{b|SGP}{sub|+LS}', '{b|RDO}', '{b|RDO}{sub|+LS}', '{b|RDO}{sup|xLS}', '{b|RDO}{sup2|xLS}'];
const LEGEND_H = [14, 23, 14, 23, 23, 22];
const RICH = {
  b: {fontFamily: FONT_TICK, fontSize: 12, color: '#000', lineHeight: 14},
  sub: {fontFamily: FONT_TICK, fontSize: 12, color: '#000', lineHeight: 14, padding: [9, 0, 0, 0]},
  sup: {fontFamily: FONT_TICK, fontSize: 12, color: '#000', lineHeight: 14, padding: [0, 0, 9, 0]},
  sup2: {fontFamily: FONT_TICK, fontSize: 11, color: '#000', lineHeight: 13, padding: [0, 0, 9, 0]}
};
const legends = METHODS.map((name, k) => ({
  data: [k === 0 ? {name: name, itemStyle: {opacity: 0}} : {name: name}],
  left: LEGEND_LEFT[k], top: 1138 - LEGEND_H[k] / 2, padding: 0, z: 10,
  itemWidth: 26, itemHeight: STYLE[k].legendH, selectedMode: false, orient: 'horizontal',
  formatter: () => LEGEND_FMT[k],
  textStyle: {fontFamily: FONT_TICK, fontSize: 12, color: '#000', padding: [0, 0, 0, 6], rich: RICH}
}));

const mctx = document.createElement('canvas').getContext('2d');
mctx.font = '12px "DejaVu Sans"';
const rdoW = mctx.measureText('RDO').width;
graphics.push({type: 'text', x: LEGEND_LEFT[5] + 26 + 5 + 6 + rdoW, y: 1143.5, z: 11, silent: true,
  style: {text: '+LS', fill: '#000', font: '11px "DejaVu Sans"', align: 'left', verticalAlign: 'middle'}});
graphics.push({type: 'rect', shape: {x: -3, y: 1127, width: 676, height: 22}, z: -1, silent: true,
  style: {fill: '#fff', stroke: '#cccccc', lineWidth: 2}});

// caption (justified first line)
const CAP_FONT = 'bold 26.4px "Liberation Serif"';
mctx.font = CAP_FONT;
const capStart = 1, capEnd = 668;
const widths = CAPTION_1.map(w => mctx.measureText(w).width);
const total = widths.reduce((a, c) => a + c, 0);
const gap = (capEnd - capStart - total) / (CAPTION_1.length - 1);
let cxp = capStart;
CAPTION_1.forEach((w, k) => {
  graphics.push({type: 'text', x: cxp, y: 1193.5, silent: true,
    style: {text: w, fill: '#000', font: CAP_FONT, align: 'left', verticalAlign: 'middle'}});
  cxp += widths[k] + gap;
});
graphics.push({type: 'text', x: 1, y: 1224.5, silent: true,
  style: {text: CAPTION_2, fill: '#000', font: CAP_FONT, align: 'left', verticalAlign: 'middle'}});

const chart = echarts.init(document.getElementById('c'), null, {renderer: 'svg', width: 670, height: 1272});
chart.setOption({
  animation: false,
  backgroundColor: '#fff',
  grid: grids, xAxis: xAxes, yAxis: yAxes, series: series,
  legend: legends,
  graphic: {elements: graphics}
});
</script></body></html>
